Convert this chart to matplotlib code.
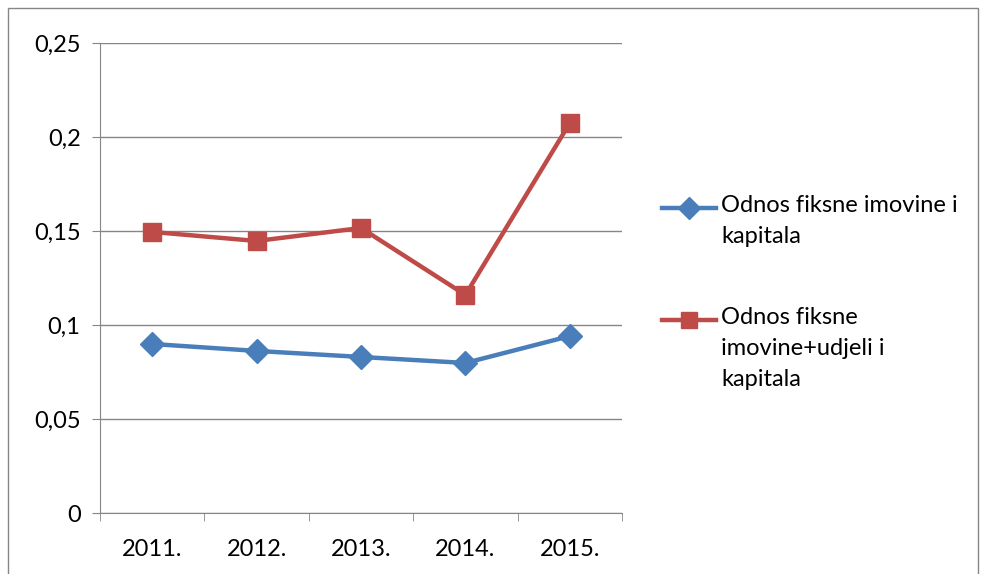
import numpy as np
import matplotlib.pyplot as plt
from matplotlib.patches import Rectangle
from matplotlib.lines import Line2D

years = ["2011.", "2012.", "2013.", "2014.", "2015."]
fixed_assets = [0.0899, 0.0862, 0.0830, 0.0798, 0.0941]
fixed_assets_shares = [0.1495, 0.1447, 0.1516, 0.1160, 0.2074]

label_blue = "Odnos fiksne imovine i\nkapitala"
label_red = "Odnos fiksne\nimovine+udjeli i\nkapitala"

blue = "#4a7ebb"
red = "#be4b48"
grid_col = "#868686"
fs = 17

plt.rcParams['font.family'] = ['Lato', 'DejaVu Sans']

W, H = 981, 574
fig = plt.figure(figsize=(W / 100, H / 100), dpi=100)
ax = fig.add_axes([100 / W, 1 - 513 / H, 522 / W, 470 / H])

# outer chart border
fig.patches.append(Rectangle((8 / W, -0.1), 970 / W, 1 - 8 / H + 0.1,
                             transform=fig.transFigure, fill=False,
                             edgecolor=grid_col, linewidth=1))

line_blue = dict(color=blue, lw=3.2, marker="D", ms=12.5, markeredgecolor=blue)
line_red = dict(color=red, lw=3.2, marker="s", ms=13.5, markeredgecolor=red)

x = np.arange(len(years))
ax.plot(x, fixed_assets, zorder=3, **line_blue)
ax.plot(x, fixed_assets_shares, zorder=3, **line_red)

ax.set_xlim(-0.5, len(years) - 0.5)
ax.set_ylim(0, 0.25)
yt = np.arange(0, 0.2501, 0.05)
ax.set_yticks(yt)
ax.set_yticklabels(["0", "0,05", "0,1", "0,15", "0,2", "0,25"], fontsize=fs)
ax.yaxis.grid(True, color=grid_col, linewidth=1)
ax.set_axisbelow(True)

ax.set_xticks(x)
ax.set_xticklabels(years, fontsize=fs)
ax.set_xticks(np.arange(-0.5, len(years)), minor=True)
ax.tick_params(axis='x', which='major', length=0, pad=19)
ax.tick_params(axis='x', which='minor', length=6, color=grid_col, direction='out')
ax.tick_params(axis='y', length=6, color=grid_col, pad=8)

for s in ["top", "right"]:
    ax.spines[s].set_visible(False)
for s in ["left", "bottom"]:
    ax.spines[s].set_color(grid_col)

# legend, handle aligned with the first text line of each entry
for yc, style, label in [(208, line_blue, label_blue), (320, line_red, label_red)]:
    yf = 1 - yc / H
    handle = Line2D([662 / W, 716 / W], [yf, yf], transform=fig.transFigure,
                    markevery=[], **style)
    mark = Line2D([689 / W], [yf], transform=fig.transFigure,
                  **{**style, "ms": style["ms"] - 1.5})
    fig.add_artist(handle)
    fig.add_artist(mark)
    fig.text(721 / W, yf + 13 / H, label, fontsize=fs, va="top", ha="left",
             linespacing=1.6)

fig.savefig("out.png", dpi=100)
